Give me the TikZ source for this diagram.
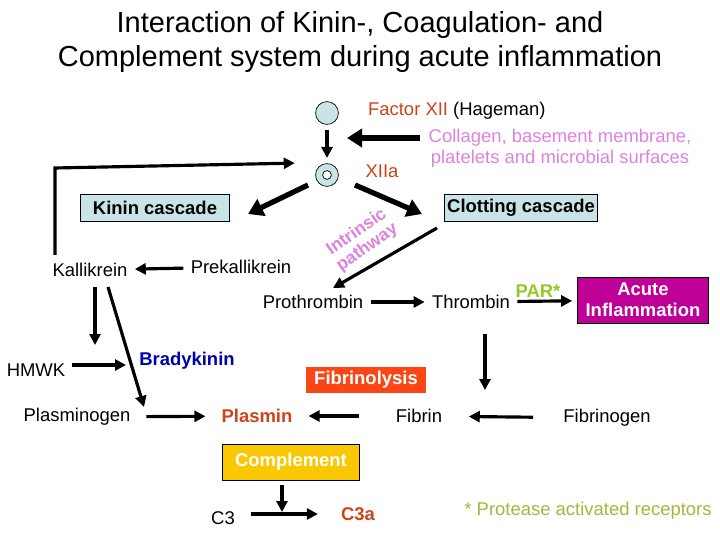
\documentclass[tikz,border=0pt]{standalone}
\usepackage{fontspec}
\setmainfont{Liberation Sans}
\usetikzlibrary{arrows.meta}
\usetikzlibrary{positioning}
\definecolor{factred}{RGB}{204,68,24}
\definecolor{pinktxt}{RGB}{222,130,222}
\definecolor{boxblue}{RGB}{200,228,230}
\definecolor{acute}{RGB}{190,0,150}
\definecolor{fibro}{RGB}{250,70,20}
\definecolor{compl}{RGB}{250,200,0}
\definecolor{pargreen}{RGB}{150,200,40}
\definecolor{notegreen}{RGB}{170,180,60}
\tikzset{>={Triangle[length=2.2mm,width=2.2mm]}}
\tikzset{
    lbl/.style={font=\fontsize{10.5}{12}\selectfont, inner sep=1pt},
    bx/.style={draw, font=\fontsize{10.5}{12}\selectfont\bfseries, inner sep=0pt},
    arr/.style={->, line width=1.8pt, shorten >=3pt, shorten <=3pt},
    fat/.style={->, line width=3pt, >={Triangle[length=3mm,width=3.6mm]}},
}
\begin{document}
\begin{tikzpicture}[x=0.02cm,y=-0.02cm]
	\useasboundingbox (0,0) rectangle (720,540);
	% title
	\node[font=\fontsize{16.5}{19.5}\selectfont, align=center] (title) at (360,42)
		{Interaction of Kinin-, Coagulation- and\\Complement system during acute inflammation};
	% factor XII
	\node[circle, draw, fill=boxblue, inner sep=0pt, minimum size=13pt] (f12) at (327,113) {};
	\node[lbl, anchor=west] (f12t) at (366,111) {\textcolor{factred}{Factor XII} (Hageman)};
	\node[circle, draw, fill=boxblue, inner sep=0pt, minimum size=13pt] (f12a) at (327,175) {};
	\node[circle, draw, fill=white, inner sep=0pt, minimum size=5pt] at (f12a) {};
	\node[lbl, text=factred] (xiia) at (382,171) {XIIa};
	\node[lbl, text=pinktxt, align=center] (surf) at (560,148) {Collagen, basement membrane,\\platelets and microbial surfaces};
	\coordinate (surfA) at (420,138);
	\coordinate (surfB) at (347,138);
	\draw[fat] (surfA) -- (surfB);
	\draw[arr] (f12) -- (f12a);
	% cascades
	\node[bx, fill=boxblue, minimum width=150*0.567pt, minimum height=27*0.567pt] (kinin) at (155,208) {Kinin cascade};
	\node[bx, fill=boxblue, minimum width=153*0.567pt, minimum height=27*0.567pt] (clot) at (521,208) {Clotting cascade};
	\coordinate (kA) at (308,185);
	\coordinate (kB) at (248,214);
	\coordinate (cA) at (355,185);
	\coordinate (cB) at (422,214);
	\draw[fat] (kA) -- (kB);
	\draw[fat] (cA) -- (cB);
	% kinin branch
	\node[lbl] (kall) at (90,270) {Kallikrein};
	\node[lbl] (prek) at (241,267) {Prekallikrein};
	\draw[arr] (prek) -- (kall);
	\coordinate (fbA) at (55,255);
	\coordinate (fbB) at (55,168);
	\coordinate (fbC) at (300,163);
	\draw[arr, shorten <=0pt] (fbA) -- (fbB) -- (fbC);
	\node[lbl, text=pinktxt, font=\fontsize{10}{10.5}\selectfont\bfseries, rotate=35, align=center] (intr) at (362,240) {Intrinsic\\pathway};
	% coagulation
	\node[lbl] (proth) at (313,302) {Prothrombin};
	\node[lbl] (thromb) at (471,302) {Thrombin};
	\coordinate (ipA) at (437,228);
	\coordinate (ipB) at (333,288);
	\draw[arr, shorten >=0pt, shorten <=0pt] (ipA) -- (ipB);
	\draw[arr] (proth) -- (thromb);
	\node[lbl, text=pargreen, font=\fontsize{10.5}{12}\selectfont\bfseries] (par) at (538,291) {PAR*};
	\node[bx, fill=acute, text=white, align=center, minimum width=131*0.567pt, minimum height=46*0.567pt] (acute) at (643,300) {Acute\\Inflammation};
	\draw[arr] (thromb) -- (acute);
	% HMWK, bradykinin
	\node[lbl] (hmwk) at (36,370) {HMWK};
	\node[lbl, text=blue!70!black, font=\fontsize{10.5}{12}\selectfont\bfseries] (brady) at (187,361) {Bradykinin};
	\coordinate (kd1) at (95,287);
	\coordinate (kd2) at (95,345);
	\draw[arr, shorten >=0pt, shorten <=0pt] (kd1) -- (kd2);
	\coordinate (kd3) at (108,287);
	\coordinate (kd4) at (144,407);
	\draw[arr, shorten >=0pt, shorten <=0pt] (kd3) -- (kd4);
	\coordinate (hA) at (72,365);
	\coordinate (hB) at (126,365);
	\draw[arr, shorten >=0pt, shorten <=0pt] (hA) -- (hB);
	% fibrinolysis
	\node[bx, fill=fibro, text=white, minimum width=120*0.567pt, minimum height=26*0.567pt, draw=none] (fibrol) at (366,380) {Fibrinolysis};
	\node[lbl] (plgn) at (77,417) {Plasminogen};
	\node[lbl, text=factred, font=\fontsize{10.5}{12}\selectfont\bfseries] (plas) at (257,416) {Plasmin};
	\node[lbl] (fibrin) at (419,416) {Fibrin};
	\node[lbl] (fibgn) at (607,418) {Fibrinogen};
	\draw[arr, shorten >=8pt, shorten <=8pt] (plgn) -- (plas);
	\draw[arr, shorten >=8pt, shorten <=20pt] (fibrin) -- (plas);
	\draw[arr, shorten >=14pt, shorten <=16pt] (fibgn) -- (fibrin);
	\coordinate (thA) at (485,334);
	\coordinate (thB) at (485,390);
	\draw[arr, shorten >=0pt, shorten <=0pt] (thA) -- (thB);
	% complement
	\node[bx, fill=compl, text=white, minimum width=138*0.567pt, minimum height=36*0.567pt] (comp) at (291,462) {Complement};
	\node[lbl] (c3) at (223,518) {C3};
	\node[lbl, text=factred, font=\fontsize{10.5}{12}\selectfont\bfseries] (c3a) at (358,514) {C3a};
	\draw[arr, shorten >=12pt, shorten <=8pt] (c3.east |- c3a) -- (c3a);
	\coordinate (cpA) at (282,485);
	\coordinate (cpB) at (282,512);
	\draw[arr, shorten >=0pt, shorten <=0pt] (cpA) -- (cpB);
	\node[lbl, text=notegreen] (note) at (588,511) {* Protease activated receptors};
\end{tikzpicture}
\end{document}
